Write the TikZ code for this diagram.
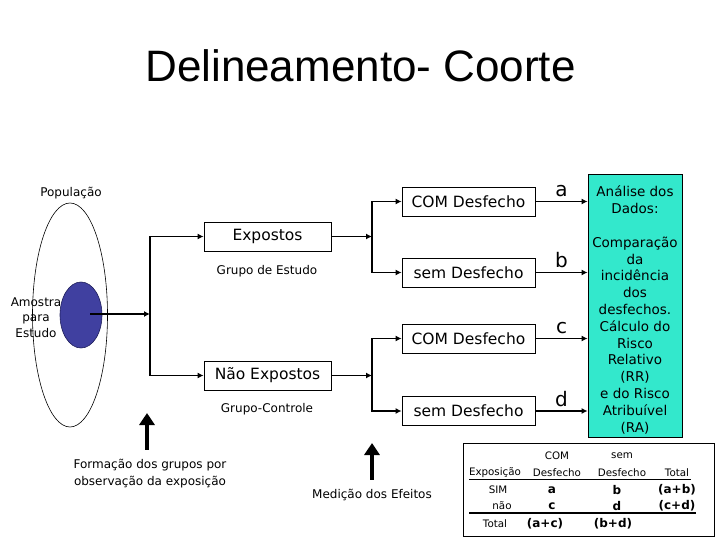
\documentclass[tikz,border=0pt]{standalone}
\usepackage{fontspec}
\setmainfont{DejaVu Sans}
\newfontfamily\titlefont{Liberation Sans}
\usetikzlibrary{arrows.meta,shapes.geometric}
\definecolor{turquesa}{RGB}{51,232,204}
\definecolor{azulamostra}{RGB}{64,64,160}
\definecolor{azulborda}{RGB}{30,30,90}

\begin{document}
\begin{tikzpicture}[x=1pt,y=-1pt,
    caixa/.style={draw,line width=.8pt,minimum height=29pt,inner sep=0pt,font=\fontsize{15.5}{18}\selectfont},
    rotulo/.style={font=\fontsize{12}{17}\selectfont,align=center,inner sep=0pt},
    liga/.style={line width=1.8pt,-{Latex[length=6pt,width=6pt]}},
    letra/.style={font=\fontsize{20}{22}\selectfont},
    seta/.style={line width=4.5pt,-{Triangle[width=15pt,length=12pt]}},
    celula/.style={font=\fontsize{10.3}{12}\selectfont,inner sep=0pt},
    valor/.style={font=\bfseries\fontsize{12}{14}\selectfont,inner sep=0pt}]
    \useasboundingbox (0,0) rectangle (720,540);
    \node[font=\titlefont\fontsize{44}{48}\selectfont,anchor=base] (titulo) at (360.5,82) {Delineamento- Coorte};

    \node[ellipse,draw,line width=.6pt,minimum width=75pt,minimum height=224pt,inner sep=0pt] (populacao) at (70,315) {};
    \node[ellipse,draw=azulborda,fill=azulamostra,line width=.6pt,minimum width=42pt,minimum height=66pt,inner sep=0pt] (amostra) at (81,315) {};
    \node[rotulo] (poptexto) at (71,193) {População};
    \node[rotulo,font=\fontsize{12}{15.5}\selectfont] (amostratexto) at (36,317.5) {Amostra\\para\\Estudo};

    \coordinate (j0) at (150,314);
    \node[caixa,minimum width=127pt] (expo) at (267.5,236.5) {Expostos};
    \node[caixa,minimum width=127pt] (naoexpo) at (267.5,375.5) {Não Expostos};
    \node[rotulo] (grupoestudo) at (267,271) {Grupo de Estudo};
    \node[rotulo] (grupocontrole) at (267,409) {Grupo-Controle};
    \draw[liga] ([shift={(9,-1)}]amostra.center) -- (j0);
    \draw[liga] (j0) |- (expo.west);
    \draw[liga] (j0) |- (naoexpo.west);

    \coordinate (j1) at (372,236.5);
    \coordinate (j2) at (372,375.5);
    \node[caixa,minimum width=133pt] (com1) at (468.5,201.5) {COM Desfecho};
    \node[caixa,minimum width=133pt] (sem1) at (468.5,272.5) {sem Desfecho};
    \node[caixa,minimum width=133pt] (com2) at (468.5,338.5) {COM Desfecho};
    \node[caixa,minimum width=133pt] (sem2) at (468.5,411) {sem Desfecho};
    \draw[liga] (expo.east) -- (j1);
    \draw[liga] (naoexpo.east) -- (j2);
    \draw[liga] (j1) |- (com1.west);
    \draw[liga] (j1) |- (sem1.west);
    \draw[liga] (j2) |- (com2.west);
    \draw[liga] (j2) |- (sem2.west);

    \node[draw,fill=turquesa,line width=.8pt,minimum width=94pt,minimum height=263pt,inner sep=0pt] (analise) at (635,305.5) {};
    \node[align=center,inner sep=0pt,font=\fontsize{13.5}{16.8}\selectfont] (analisetexto) at (635,310)
        {Análise dos\\Dados:\\[16.8pt]Comparação\\da\\incidência\\dos\\desfechos.\\Cálculo do\\Risco\\Relativo\\(RR)\\e do Risco\\Atribuível\\(RA)};
    \draw[liga] (com1.east) -- (com1.east -| analise.west) node[letra,midway,above] {a};
    \draw[liga] (sem1.east) -- (sem1.east -| analise.west) node[letra,midway,above] {b};
    \draw[liga] (com2.east) -- (com2.east -| analise.west) node[letra,midway,above] {c};
    \draw[liga] (sem2.east) -- (sem2.east -| analise.west) node[letra,midway,above] {d};

    \node[rotulo] (formacao) at (150,473.5) {Formação dos grupos por\\observação da exposição};
    \coordinate (pontaA) at (147,413);
    \draw[seta] ([yshift=9pt]formacao.north -| pontaA) -- (pontaA);
    \node[rotulo] (medicao) at (372,495) {Medição dos Efeitos};
    \coordinate (pontaB) at (372,443);
    \draw[seta] ([yshift=9pt]medicao.north -| pontaB) -- (pontaB);

    \node[draw,line width=.8pt,minimum width=251pt,minimum height=93pt] (tabela) at (588.5,489.5) {};
    \node[celula] (hcom) at (557,456) {COM};
    \node[celula] (hsem) at (622,456) {sem};
    \node[celula] (hexpo) at (495,473) {Exposição};
    \node[celula] (hdes1) at (557,473) {Desfecho};
    \node[celula] (hdes2) at (622,473) {Desfecho};
    \node[celula] (htot) at (677,473) {Total};
    \node[celula] (lsim) at (498,490) {SIM};
    \node[valor] (va) at (552,490) {a};
    \node[valor] (vb) at (617,490) {b};
    \node[valor] (vab) at (677,490) {(a+b)};
    \node[celula] (lnao) at (502,506) {não};
    \node[valor] (vc) at (552,506) {c};
    \node[valor] (vd) at (617,506) {d};
    \node[valor] (vcd) at (677,506) {(c+d)};
    \node[celula] (ltot) at (495,524) {Total};
    \node[valor] (vac) at (545,524) {(a+c)};
    \node[valor] (vbd) at (613,524) {(b+d)};
    \draw[line width=.8pt] (469,479) -- (691,479);
    \draw[line width=1.6pt] (469,513) -- (696,513);
\end{tikzpicture}
\end{document}
